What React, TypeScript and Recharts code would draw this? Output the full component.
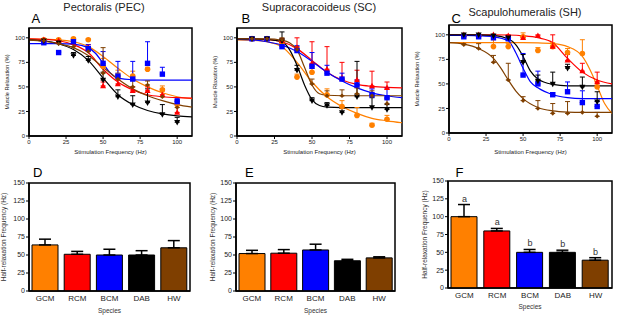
import React from 'react'
import { ComposedChart, XAxis, YAxis, Line, Scatter, Bar, Cell, ErrorBar, ReferenceArea, LabelList } from 'recharts'

const FONT = '"Liberation Sans", Arial, sans-serif'

const species = ['GCM', 'RCM', 'BCM', 'DAB', 'HW']
const speciesColors = ['#FF8000', '#FF0000', '#0000FF', '#000000', '#7F3F00']
const speciesMarkers = ['circle', 'up', 'square', 'down', 'diamond']

const freqs = [10, 20, 30, 40, 50, 60, 70, 80, 90, 100]
const freqTicks = [0, 25, 50, 75, 100]
const relaxTicks = [0, 25, 50, 75, 100]
const halfTicks = [0, 25, 50, 75, 100, 125, 150]

// Pectoralis (PEC) - mean relaxation and upper SEM
const pecGCM = [98, 98, 99, 98, 71, 61, 61, 68, 47, 32]
const pecGCMErr = [1, 1, 1, 1, 8, 6, 5, 2, 4, 3]
const pecRCM = [98, 97, 95, 90, 51, 53, 46, 46, 42, 24]
const pecRCMErr = [1, 1, 2, 3, 4, 4, 4, 4, 4, 12]
const pecBCM = [95, 85, 96, 89, 74, 61, 58, 74, 63, 35]
const pecBCMErr = [1, 1, 2, 4, 12, 15, 18, 22, 7, 3]
const pecDAB = [97, 95, 82, 77, 57, 40, 32, 34, 22, 14]
const pecDABErr = [1, 2, 3, 4, 8, 7, 9, 14, 10, 5]
const pecHW = [97, 94, 91, 86, 64, 58, 50, 52, 40, 29]
const pecHWErr = [1, 1, 3, 4, 26, 6, 8, 4, 8, 4]

// Supracoracoideus (SC)
const scGCM = [99, 99, 95, 60, 65, 42, 30, 21, 11, 17]
const scGCMErr = [1, 1, 2, 3, 4, 6, 6, 8, 2, 4]
const scRCM = [99, 99, 97, 90, 74, 68, 59, 57, 51, 49]
const scRCMErr = [1, 1, 2, 10, 22, 23, 16, 10, 15, 6]
const scBCM = [99, 99, 91, 87, 71, 64, 58, 52, 42, 39]
const scBCMErr = [1, 1, 2, 5, 14, 8, 6, 5, 6, 10]
const scDAB = [99, 99, 97, 67, 36, 31, 24, 40, 29, 27]
const scDABErr = [1, 1, 9, 5, 3, 3, 4, 36, 10, 5]
const scHW = [99, 99, 98, 88, 53, 41, 41, 43, 41, 33]
const scHWErr = [1, 1, 2, 3, 5, 5, 6, 6, 5, 5]

// Scapulohumeralis (SH)
const shGCM = [99, 99, 88, 88, 98, 84, 88, 82, 81, 47]
const shGCMErr = [1, 1, 7, 3, 4, 3, 4, 4, 14, 5]
const shRCM = [100, 100, 100, 99, 97, 99, 88, 74, 63, 52]
const shRCMErr = [0, 0, 0, 1, 1, 1, 12, 6, 8, 10]
const shBCM = [98, 98, 97, 96, 59, 50, 39, 42, 31, 27]
const shBCMErr = [1, 1, 1, 3, 22, 13, 2, 10, 12, 5]
const shDAB = [100, 100, 99, 97, 72, 53, 50, 66, 47, 32]
const shDABErr = [0, 0, 1, 2, 8, 6, 12, 4, 10, 10]
const shHW = [90, 86, 72, 54, 33, 25, 20, 20, 21, 17]
const shHWErr = [1, 5, 7, 17, 4, 8, 10, 12, 10, 4]

// fitted curves as [frequency, relaxation]
const pecFitGCM = [[0, 99], [10, 98.5], [20, 98], [30, 96], [40, 91], [50, 81], [60, 69], [70, 58], [80, 50], [90, 44], [100, 40], [110, 38]]
const pecFitRCM = [[0, 99], [10, 98.5], [20, 97], [30, 93], [40, 85], [50, 68], [60, 55], [70, 47], [80, 42], [90, 40], [100, 39], [110, 38.5]]
const pecFitBCM = [[0, 94], [10, 94], [20, 94], [30, 93.5], [40, 90], [45, 84], [50, 74], [55, 64], [60, 59], [70, 57.3], [80, 57], [90, 57], [100, 57], [110, 57]]
const pecFitDAB = [[0, 98], [10, 97], [20, 94], [30, 88], [40, 77], [50, 59], [60, 42], [70, 32], [80, 26], [90, 22.5], [100, 20.5], [110, 19.5]]
const pecFitHW = [[0, 98], [10, 96.5], [20, 94], [30, 90], [40, 82], [50, 70], [60, 58], [70, 48], [80, 41], [90, 36], [100, 32], [110, 29.5]]

const scFitGCM = [[0, 98], [10, 97.5], [20, 96], [30, 91], [40, 75], [50, 55], [60, 40], [70, 30], [80, 23], [90, 18], [100, 15.5], [110, 13.5]]
const scFitRCM = [[0, 99], [10, 99], [20, 98.5], [30, 96], [40, 89], [50, 77], [60, 65], [70, 57], [80, 52.5], [90, 50.5], [100, 49.5], [110, 49]]
const scFitBCM = [[0, 98.5], [10, 98], [20, 96], [30, 92.5], [40, 86], [50, 76], [60, 65], [70, 56], [80, 49], [90, 44], [100, 41], [110, 39]]
const scFitDAB = [[0, 99], [10, 99], [20, 98.5], [30, 96], [35, 88], [40, 72], [45, 52], [50, 37], [55, 31], [60, 29.5], [70, 29], [80, 29], [90, 29], [100, 29], [110, 29]]
const scFitHW = [[0, 99], [10, 99], [20, 99], [30, 97.5], [35, 95], [40, 88], [45, 70], [50, 52], [55, 43], [60, 41.5], [70, 41], [80, 41], [90, 41], [100, 41], [110, 41]]

const shFitGCM = [[0, 92], [10, 92], [20, 92], [30, 92], [40, 92], [50, 92], [60, 91.8], [70, 91], [80, 88], [90, 78], [95, 65], [100, 48], [105, 30], [110, 20]]
const shFitRCM = [[0, 100], [10, 100], [20, 100], [30, 100], [40, 99.8], [50, 99], [60, 97], [70, 92], [80, 76], [90, 62], [100, 54], [110, 50]]
const shFitBCM = [[0, 99.5], [10, 99.5], [20, 99], [30, 98], [40, 94], [45, 82], [50, 66], [55, 52], [60, 46], [70, 39], [80, 36], [90, 35], [100, 35], [110, 35]]
const shFitDAB = [[0, 100], [10, 100], [20, 100], [30, 99.5], [40, 96], [45, 90], [50, 78], [55, 63], [60, 55], [70, 49.5], [80, 48], [90, 48], [100, 48], [110, 48]]
const shFitHW = [[0, 92], [10, 90.5], [20, 86], [30, 76], [35, 66], [40, 54], [45, 43], [50, 35], [60, 26], [70, 22.5], [80, 21.3], [90, 21], [100, 21], [110, 21]]

// half-relaxation frequency (Hz)
const halfPEC = [64, 51, 50, 50, 60]
const halfPECErr = [8, 4, 8, 6, 10]
const halfSC = [52, 52.5, 57, 42, 46]
const halfSCErr = [4.5, 5, 8, 2, 1.5]
const halfSH = [100, 80, 50, 50, 39]
const halfSHErr = [17, 3.5, 4, 3, 3.5]
const halfSHLetters = ['a', 'a', 'b', 'b', 'b']

const points = (vals: number[], errs: number[]) => freqs.map((f, i) => ({ f, v: vals[i], e: errs[i] }))
const fit = (pairs: number[][]) => pairs.map(([f, v]) => ({ f, v }))

const pecSeries = [
  { pts: points(pecGCM, pecGCMErr), fit: fit(pecFitGCM) },
  { pts: points(pecRCM, pecRCMErr), fit: fit(pecFitRCM) },
  { pts: points(pecBCM, pecBCMErr), fit: fit(pecFitBCM) },
  { pts: points(pecDAB, pecDABErr), fit: fit(pecFitDAB) },
  { pts: points(pecHW, pecHWErr), fit: fit(pecFitHW) },
]
const scSeries = [
  { pts: points(scGCM, scGCMErr), fit: fit(scFitGCM) },
  { pts: points(scRCM, scRCMErr), fit: fit(scFitRCM) },
  { pts: points(scBCM, scBCMErr), fit: fit(scFitBCM) },
  { pts: points(scDAB, scDABErr), fit: fit(scFitDAB) },
  { pts: points(scHW, scHWErr), fit: fit(scFitHW) },
]
const shSeries = [
  { pts: points(shGCM, shGCMErr), fit: fit(shFitGCM) },
  { pts: points(shRCM, shRCMErr), fit: fit(shFitRCM) },
  { pts: points(shBCM, shBCMErr), fit: fit(shFitBCM) },
  { pts: points(shDAB, shDABErr), fit: fit(shFitDAB) },
  { pts: points(shHW, shHWErr), fit: fit(shFitHW) },
]

const barRows = (vals: number[], errs: number[], letters?: string[]) =>
  species.map((sp, i) => ({ sp, v: vals[i], e: errs[i], t: vals[i] + errs[i], letter: letters ? letters[i] : '' }))

const upperErr = (d: any) => [0, d.e]

const marker = (kind: string, color: string) => (p: any) => {
  const { cx, cy } = p
  if (cx == null || cy == null) return <g />
  if (kind === 'circle') return <circle cx={cx} cy={cy} r={2.8} fill={color} />
  if (kind === 'square') return <rect x={cx - 2.7} y={cy - 2.7} width={5.4} height={5.4} fill={color} />
  if (kind === 'up') return <path d={`M${cx},${cy - 3.3}L${cx + 3},${cy + 2.2}L${cx - 3},${cy + 2.2}Z`} fill={color} />
  if (kind === 'down') return <path d={`M${cx},${cy + 3.3}L${cx + 3},${cy - 2.2}L${cx - 3},${cy - 2.2}Z`} fill={color} />
  return <path d={`M${cx},${cy - 2.3}L${cx + 2.3},${cy}L${cx},${cy + 2.3}L${cx - 2.3},${cy}Z`} fill={color} />
}

const axisLine = { stroke: '#000', strokeWidth: 1.5 }
const tickLine = { stroke: '#000', strokeWidth: 1 }

function CurvePanel({ left, width, yw, top, right, xh, labelX, yLabel, series }: any) {
  return (
    <div style={{ position: 'absolute', left, top: 0 }}>
      <ComposedChart width={width} height={160} margin={{ top, right, bottom: 0, left: 0 }}>
        <XAxis
          type="number"
          dataKey="f"
          domain={[0, 110]}
          ticks={freqTicks}
          allowDataOverflow
          height={xh}
          tickSize={3}
          tickMargin={1}
          axisLine={axisLine}
          tickLine={tickLine}
          tick={{ fontSize: 6, fill: '#222', fontFamily: FONT }}
          label={{ value: 'Stimulation Frequency (Hz)', position: 'insideBottom', offset: 6, fontSize: 6, fill: '#222', fontFamily: FONT }}
        />
        <YAxis
          type="number"
          domain={[0, 110]}
          ticks={relaxTicks}
          allowDataOverflow
          width={yw}
          tickSize={3}
          tickMargin={1}
          axisLine={axisLine}
          tickLine={tickLine}
          tick={{ fontSize: 6, fill: '#222', fontFamily: FONT }}
          label={{ value: yLabel, angle: -90, position: 'insideLeft', offset: labelX, fontSize: 5.5, fill: '#222', fontFamily: FONT, style: { textAnchor: 'middle' } }}
        />
        <ReferenceArea x1={0} x2={110} y1={0} y2={110} fill="none" stroke="#000" strokeWidth={1.5} ifOverflow="visible" />
        {series.map((s: any, i: number) => (
          <Line
            key={'fit' + i}
            data={s.fit}
            dataKey="v"
            type="monotone"
            stroke={speciesColors[i]}
            strokeWidth={1.2}
            dot={false}
            activeDot={false}
            isAnimationActive={false}
          />
        ))}
        {series.map((s: any, i: number) => (
          <Scatter
            key={'pts' + i}
            data={s.pts}
            dataKey="v"
            fill={speciesColors[i]}
            shape={marker(speciesMarkers[i], speciesColors[i])}
            isAnimationActive={false}
          >
            <ErrorBar dataKey={upperErr} direction="y" width={2.5} stroke={speciesColors[i]} strokeWidth={1} isAnimationActive={false} />
          </Scatter>
        ))}
      </ComposedChart>
    </div>
  )
}

function BarPanel({ left, width, yw, top, right, xh, labelX, speciesOffset, rows, letters }: any) {
  return (
    <div style={{ position: 'absolute', left, top: 160 }}>
      <ComposedChart width={width} height={156} data={rows} margin={{ top, right, bottom: 0, left: 0 }}>
        <XAxis
          dataKey="sp"
          height={xh}
          tickLine={false}
          tickSize={4}
          tickMargin={0}
          axisLine={axisLine}
          tick={{ fontSize: 8, fill: '#222', fontFamily: FONT }}
          label={{ value: 'Species', position: 'insideBottom', offset: speciesOffset, fontSize: 6.5, fill: '#333', fontFamily: FONT }}
        />
        <YAxis
          type="number"
          domain={[0, 150]}
          ticks={halfTicks}
          allowDataOverflow
          width={yw}
          tickSize={3}
          tickMargin={1}
          axisLine={axisLine}
          tickLine={tickLine}
          tick={{ fontSize: 7, fill: '#222', fontFamily: FONT }}
          label={{ value: 'Half-relaxation Frequency (Hz)', angle: -90, position: 'insideLeft', offset: labelX, fontSize: 6.5, fill: '#333', fontFamily: FONT, style: { textAnchor: 'middle' } }}
        />
        <ReferenceArea x1="GCM" x2="HW" y1={0} y2={150} fill="none" stroke="#000" strokeWidth={1.5} ifOverflow="visible" />
        <Bar dataKey="v" barSize={26} stroke="#000" strokeWidth={1} isAnimationActive={false}>
          {rows.map((r: any, i: number) => (
            <Cell key={r.sp} fill={speciesColors[i]} />
          ))}
          <ErrorBar dataKey={upperErr} direction="y" width={6} stroke="#000" strokeWidth={1.5} isAnimationActive={false} />
        </Bar>
        {letters && (
          <Line dataKey="t" stroke="none" dot={false} activeDot={false} isAnimationActive={false}>
            <LabelList dataKey="letter" position="top" offset={3} fontSize={9} fill="#333" fontFamily={FONT} />
          </Line>
        )}
      </ComposedChart>
    </div>
  )
}

export default function App() {
  return (
    <div style={{ position: 'absolute', left: 0, top: 0, width: 617, height: 316, background: '#fff', fontFamily: FONT }}>
      <CurvePanel left={0} width={205} yw={29} top={28} right={13} xh={24} labelX={7} yLabel="Muscle Relaxation (%)" series={pecSeries} />
      <CurvePanel left={205} width={205} yw={32} top={28} right={8} xh={24} labelX={10} yLabel="Muscle Rlaxation (%)" series={scSeries} />
      <CurvePanel left={410} width={207} yw={39} top={25} right={5} xh={27} labelX={7} yLabel="Muscle Relaxation (%)" series={shSeries} />
      <BarPanel left={0} width={205} yw={29} top={23} right={15} xh={25} labelX={4} speciesOffset={3} rows={barRows(halfPEC, halfPECErr)} />
      <BarPanel left={205} width={205} yw={31} top={23} right={15} xh={25} labelX={8} speciesOffset={3.5} rows={barRows(halfSC, halfSCErr)} />
      <BarPanel left={410} width={207} yw={38} top={21} right={5} xh={28} labelX={15} speciesOffset={7} rows={barRows(halfSH, halfSHErr, halfSHLetters)} letters />
      <svg width={617} height={316} style={{ position: 'absolute', left: 0, top: 0, pointerEvents: 'none' }} fontFamily={FONT}>
        <text x={104} y={11} fontSize={11} textAnchor="middle" fill="#222">Pectoralis (PEC)</text>
        <text x={319} y={11} fontSize={11} textAnchor="middle" fill="#222">Supracoracoideus (SC)</text>
        <text x={525} y={16} fontSize={11} textAnchor="middle" fill="#222">Scapulohumeralis (SH)</text>
        <text x={31.5} y={23.3} fontSize={13} fill="#000">A</text>
        <text x={241.5} y={23} fontSize={13} fill="#000">B</text>
        <text x={451.5} y={23} fontSize={13} fill="#000">C</text>
        <text x={33} y={177} fontSize={13} fill="#000">D</text>
        <text x={245} y={177} fontSize={13} fill="#000">E</text>
        <text x={455.5} y={177} fontSize={13} fill="#000">F</text>
      </svg>
    </div>
  )
}
